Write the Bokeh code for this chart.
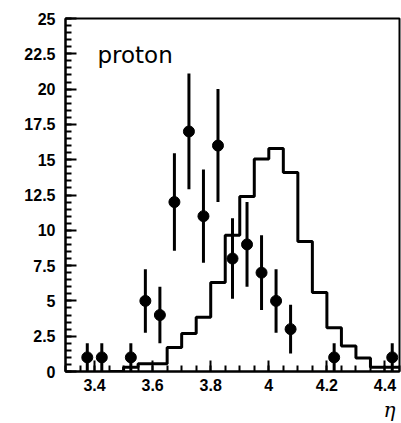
import numpy as np
from bokeh.plotting import figure
from bokeh.models import Range1d, SingleIntervalTicker, CustomJSTickFormatter, Label, Title
from bokeh.embed import file_html
from bokeh.resources import INLINE

# Data points (eta bin centres, counts, errors)
pt_eta = [3.375, 3.425, 3.525, 3.575, 3.625, 3.675, 3.725, 3.775, 3.825,
          3.875, 3.925, 3.975, 4.025, 4.075, 4.225, 4.425]
pt_n = [1, 1, 1, 5, 4, 12, 17, 11, 16, 8, 9, 7, 5, 3, 1, 1]
pt_err = [1.0, 1.0, 1.0, 2.25, 2.0, 3.45, 4.1, 3.3, 4.0, 2.85, 3.0, 2.65, 2.25, 1.73, 1.0, 1.0]

# Histogram (bin edges and contents)
hist_edges = [3.45, 3.50, 3.55, 3.60, 3.65, 3.70, 3.75, 3.80, 3.85, 3.90, 3.95,
              4.00, 4.05, 4.10, 4.15, 4.20, 4.25, 4.30, 4.35, 4.40, 4.45]
hist_vals = [0.0, 0.3, 0.55, 0.55, 1.7, 2.7, 3.85, 6.3, 9.65, 12.4, 15.05,
             15.8, 14.1, 9.2, 5.6, 3.1, 1.8, 0.95, 0.3, 0.3, 0.3]

x_lo, x_hi = 3.3, 4.45
y_lo, y_hi = 0, 25

label_text = "proton"
axis_title = "η"

p = figure(width=401, height=423, output_backend="svg", toolbar_location=None,
           x_range=Range1d(x_lo, x_hi), y_range=Range1d(y_lo, y_hi),
           min_border_left=65, min_border_right=2, min_border_top=18, min_border_bottom=20)
p.xgrid.visible = False
p.ygrid.visible = False
p.outline_line_color = "black"
p.outline_line_width = 2
p.background_fill_color = "white"
p.border_fill_color = "white"

# Histogram
p.step(x=hist_edges, y=hist_vals, mode="after", line_color="black", line_width=3)

# Error bars and points
y = np.array(pt_n, dtype=float)
e = np.array(pt_err, dtype=float)
p.segment(x0=pt_eta, y0=y - e, x1=pt_eta, y1=y + e, line_color="black", line_width=3)
p.scatter(x=pt_eta, y=pt_n, size=11, fill_color="black", line_color="black")

# Axes with inward ticks
fmt = CustomJSTickFormatter(code="return parseFloat(tick.toFixed(2)).toString();")
for ax, interval, minors in ((p.xaxis, 0.2, 4), (p.yaxis, 2.5, 5)):
    ax.ticker = SingleIntervalTicker(interval=interval, num_minor_ticks=minors)
    ax.formatter = fmt
    ax.axis_line_color = "black"
    ax.axis_line_width = 2
    ax.major_tick_in = 11
    ax.major_tick_out = 0
    ax.minor_tick_in = 6
    ax.minor_tick_out = 0
    ax.major_tick_line_color = "black"
    ax.minor_tick_line_color = "black"
    ax.major_tick_line_width = 2
    ax.minor_tick_line_width = 2
    ax.major_label_text_font = "Liberation Sans"
    ax.major_label_text_font_style = "bold"
    ax.major_label_text_font_size = "16px"
    ax.major_label_text_color = "black"
p.yaxis.major_label_standoff = 10
p.xaxis.major_label_standoff = 7

p.add_layout(Label(x=3.41, y=22.45, text=label_text, text_font="DejaVu Sans",
                   text_font_size="23px", text_color="black", text_baseline="alphabetic"))
p.add_layout(Title(text=axis_title, align="right", text_font="DejaVu Serif",
                   text_font_style="italic", text_font_size="20px", text_color="black",
                   standoff=4, offset=4), "below")

open("out.html", "w").write(file_html(p, INLINE))
